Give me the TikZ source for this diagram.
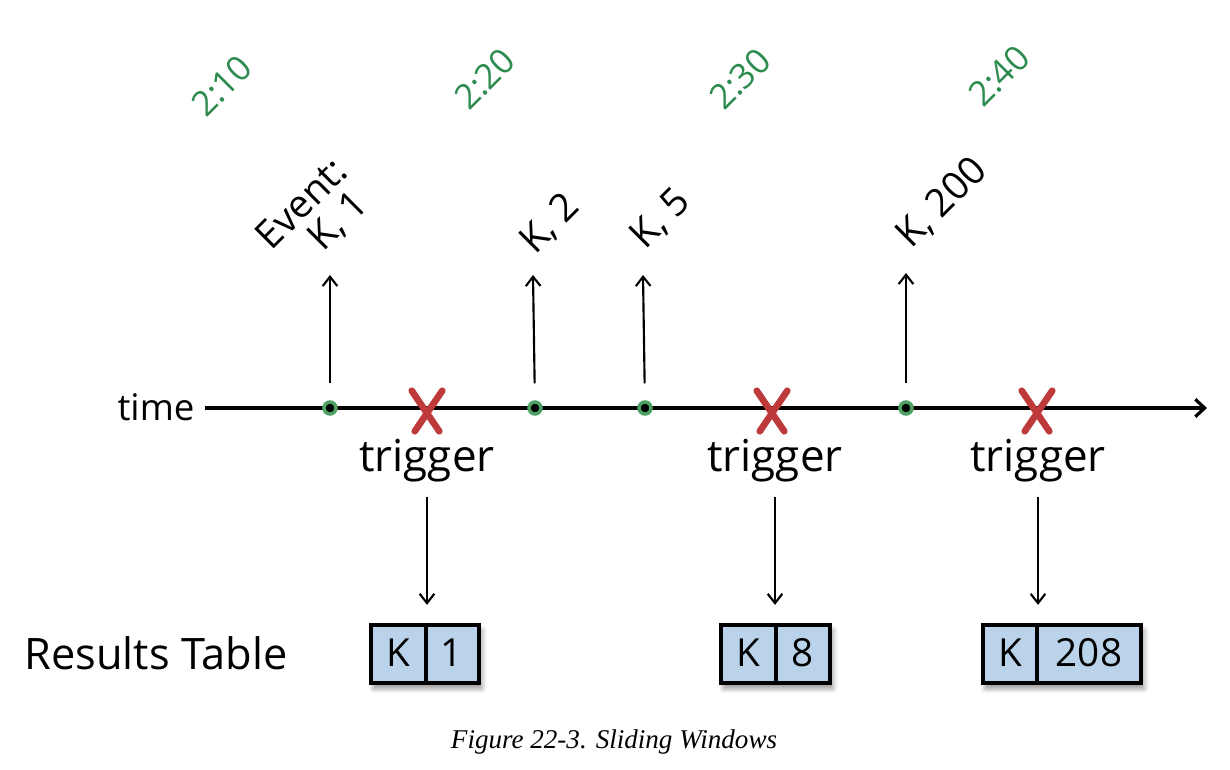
\documentclass[tikz,border=0pt]{standalone}
\usepackage{fontspec}
\setmainfont{Open Sans}
\newfontfamily\capfont{Liberation Serif}
\usetikzlibrary{arrows.meta,shadows,shadows.blur}
\definecolor{tgreen}{HTML}{2E8B50}
\definecolor{dgreen}{HTML}{4FA064}
\definecolor{xred}{HTML}{BE3A3A}
\definecolor{cellblue}{HTML}{BBD3EA}
\tikzset{
  lbl/.style={font=\fontsize{27.5}{30}\selectfont, inner sep=0pt},
  timelbl/.style={font=\fontsize{26}{28}\selectfont, text=tgreen, rotate=45, inner sep=0pt},
  evlbl/.style={font=\fontsize{29}{30}\selectfont, rotate=45, inner sep=0pt, align=left},
  evdot/.style={circle, fill=black, draw=dgreen, line width=2.6pt, minimum size=9pt, inner sep=0pt},
  arr/.style={-{Straight Barb[length=7pt,width=11pt]}, line width=1.6pt},
  axisline/.style={-{Straight Barb[length=7pt,width=13pt]}, line width=2.4pt},
  xmark/.style={minimum width=19.5pt, minimum height=30pt, inner sep=0pt},
  redx/.style={draw=xred, line width=5pt, line cap=round},
  resbox/.style={draw=black, line width=3.2pt, fill=cellblue, minimum height=43.5pt, inner sep=0pt,
     blur shadow={shadow xshift=2pt, shadow yshift=-4pt, shadow blur steps=6, shadow blur radius=4pt, shadow opacity=45}},
  celltxt/.style={font=\fontsize{29}{30}\selectfont, inner sep=0pt},
  divider/.style={line width=3.2pt}
}
\begin{document}
\begin{tikzpicture}[x=0.75pt,y=-0.75pt]
\useasboundingbox (0,0) rectangle (1230,770);

% green time labels
\node[timelbl] (t10) at (222,86) {2:10};
\node[timelbl] (t20) at (485,79) {2:20};
\node[timelbl] (t30) at (740,79) {2:30};
\node[timelbl] (t40) at (999,76) {2:40};

% axis
\node[lbl] (time) at (156,407) {time};
\coordinate (axS) at (205,408);
\coordinate (axE) at (1207,408);
\draw[axisline] (axS) -- (axE);

% event dots
\node[evdot] (d1) at (330,408) {};
\node[evdot] (d2) at (535,408) {};
\node[evdot] (d3) at (645,408) {};
\node[evdot] (d4) at (906,408) {};

% event labels
\node[evlbl] (e1) at (316,218) {Event:\\[-2pt]\hspace*{27pt}K, 1};
\node[evlbl] (e2) at (550,224) {K, 2};
\node[evlbl] (e3) at (661,219) {K, 5};
\node[evlbl] (e4) at (942,203) {K, 200};

\coordinate (u1) at (330,275);
\coordinate (u2) at (533,275);
\coordinate (u3) at (643,275);
\coordinate (u4) at (906,273);
\draw[arr, shorten <=12.75pt] (d1) -- (u1);
\draw[arr, shorten <=12.75pt] (d2) -- (u2);
\draw[arr, shorten <=12.75pt] (d3) -- (u3);
\draw[arr, shorten <=12.75pt] (d4) -- (u4);

% trigger marks
\node[xmark] (x1) at (427,411) {};
\node[xmark] (x2) at (772,411) {};
\node[xmark] (x3) at (1037,411) {};
\foreach \n in {x1,x2,x3}{
  \draw[redx] ([xshift=-1.5pt]\n.north west) -- ([xshift=-0.75pt]\n.south east);
  \draw[redx] ([xshift=1.5pt]\n.north east) -- ([xshift=0.75pt]\n.south west);
}

\node[lbl, font=\fontsize{33}{35}\selectfont] (tr1) at (427,461) {trigger};
\node[lbl, font=\fontsize{33}{35}\selectfont] (tr2) at (775,461) {trigger};
\node[lbl, font=\fontsize{33}{35}\selectfont] (tr3) at (1038,461) {trigger};

% results
\node[lbl, font=\fontsize{32.5}{34}\selectfont] (rt) at (156,653) {Results Table};

\node[resbox, minimum width=81pt] (r1) at (425,654) {};
\draw[divider] (426,625) -- (426,683);
\node[celltxt] (r1k) at (398,653) {K};
\node[celltxt] (r1v) at (452,653) {1};

\node[resbox, minimum width=81.75pt] (r2) at (775.5,654) {};
\draw[divider] (776,625) -- (776,683);
\node[celltxt] (r2k) at (748.5,653) {K};
\node[celltxt] (r2v) at (803,653) {8};

\node[resbox, minimum width=118.5pt] (r3) at (1062,654) {};
\draw[divider] (1037,625) -- (1037,683);
\node[celltxt] (r3k) at (1010,653) {K};
\node[celltxt] (r3v) at (1089,653) {208};

\draw[arr, shorten <=10.5pt, shorten >=13.5pt] (tr1.south) -- (tr1.south |- r1.north);
\draw[arr, shorten <=10.5pt, shorten >=13.5pt] (tr2.south) -- (tr2.south |- r2.north);
\draw[arr, shorten <=10.5pt, shorten >=13.5pt] (tr3.south) -- (tr3.south |- r3.north);

% caption
\node[inner sep=0pt, font=\capfont\itshape\fontsize{20.3}{22}\selectfont] (cap) at (614,742) {Figure 22-3. Sliding Windows};
\end{tikzpicture}
\end{document}
